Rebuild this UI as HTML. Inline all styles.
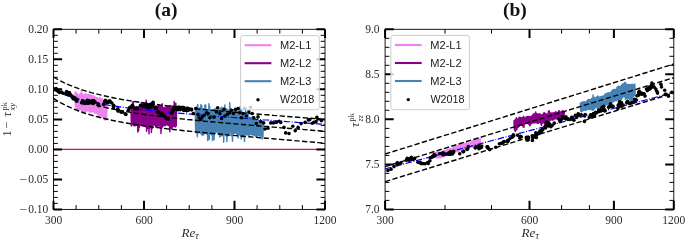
<!DOCTYPE html>
<html><head><meta charset="utf-8"><title>figure</title>
<style>html,body{margin:0;padding:0;background:#fff}svg{display:block;will-change:transform}</style></head>
<body>
<svg width="685" height="241" viewBox="0 0 685 241">
<rect width="685" height="241" fill="#fff"/>
<defs><clipPath id="ca"><rect x="53.5" y="29.3" width="271.5" height="180.1"/></clipPath><clipPath id="cb"><rect x="385.1" y="29.3" width="288.69999999999993" height="180.1"/></clipPath></defs>
<g clip-path="url(#ca)"><path d="M75.0,91.8 L75.4,106.5 L75.8,91.7 L76.2,108.3 L76.6,93.2 L77.0,109.9 L77.4,94.0 L77.8,111.2 L78.2,94.8 L78.6,111.4 L79.0,95.2 L79.4,110.3 L79.8,94.2 L80.2,109.6 L80.6,93.4 L81.0,109.8 L81.4,90.2 L81.8,111.0 L82.2,93.8 L82.6,113.1 L83.0,95.3 L83.4,113.1 L83.8,94.8 L84.2,112.7 L84.6,94.2 L85.0,112.0 L85.4,94.0 L85.8,111.6 L86.2,94.0 L86.6,111.3 L87.0,95.1 L87.4,110.5 L87.8,95.1 L88.2,110.7 L88.6,94.5 L89.0,111.3 L89.4,95.1 L89.8,112.5 L90.2,94.7 L90.6,111.5 L91.0,95.3 L91.4,111.9 L91.8,95.5 L92.2,111.2 L92.6,95.9 L93.0,111.8 L93.4,95.7 L93.8,112.2 L94.2,96.4 L94.6,112.9 L95.0,97.0 L95.4,112.9 L95.8,97.6 L96.2,112.8 L96.6,98.1 L97.0,113.4 L97.4,97.6 L97.8,114.6 L98.2,98.8 L98.6,115.8 L99.0,99.4 L99.4,115.7 L99.8,97.5 L100.2,115.6 L100.6,98.4 L101.0,116.2 L101.4,99.5 L101.8,117.1 L102.2,98.8 L102.6,116.9 L103.0,99.7 L103.4,117.5 L103.8,100.7 L104.2,119.2 L104.6,101.4 L105.0,120.0 L105.4,101.9 L105.8,119.7 L106.2,101.7 L106.6,118.9 L107.0,102.1" fill="none" stroke="#ee82ee" stroke-width="1.5" stroke-linejoin="round"/>
<path d="M131.0,106.8 L131.4,126.1 L131.8,105.7 L132.2,124.8 L132.6,102.1 L133.0,124.9 L133.4,101.8 L133.8,125.5 L134.2,107.4 L134.6,126.0 L135.0,107.7 L135.4,125.4 L135.8,106.7 L136.2,124.8 L136.6,106.8 L137.0,125.5 L137.4,106.9 L137.8,132.0 L138.2,107.1 L138.6,130.7 L139.0,106.2 L139.4,127.3 L139.8,106.9 L140.2,125.6 L140.6,106.5 L141.0,125.1 L141.4,102.5 L141.8,125.4 L142.2,103.9 L142.6,125.5 L143.0,106.1 L143.4,126.0 L143.8,105.3 L144.2,126.2 L144.6,105.4 L145.0,126.3 L145.4,104.6 L145.8,126.9 L146.2,100.3 L146.6,131.2 L147.0,106.0 L147.4,128.6 L147.8,106.0 L148.2,128.4 L148.6,106.5 L149.0,133.8 L149.4,107.1 L149.8,128.0 L150.2,107.4 L150.6,127.4 L151.0,107.7 L151.4,132.4 L151.8,107.8 L152.2,128.5 L152.6,103.7 L153.0,125.5 L153.4,104.5 L153.8,124.6 L154.2,107.1 L154.6,125.0 L155.0,106.5 L155.4,126.6 L155.8,106.1 L156.2,127.2 L156.6,106.0 L157.0,126.8 L157.4,106.7 L157.8,126.4 L158.2,105.8 L158.6,125.6 L159.0,106.6 L159.4,125.8 L159.8,106.1 L160.2,128.0 L160.6,107.0 L161.0,133.6 L161.4,105.5 L161.8,128.3 L162.2,103.7 L162.6,126.8 L163.0,107.9 L163.4,126.1 L163.8,107.5 L164.2,125.1 L164.6,107.8 L165.0,125.8 L165.4,107.8 L165.8,125.1 L166.2,106.8 L166.6,124.8 L167.0,106.5 L167.4,124.7 L167.8,106.9 L168.2,125.6 L168.6,106.9 L169.0,125.5 L169.4,106.6 L169.8,131.8 L170.2,105.6 L170.6,128.5 L171.0,105.8 L171.4,128.6 L171.8,106.6 L172.2,127.7 L172.6,107.6 L173.0,126.5 L173.4,106.2 L173.8,126.6 L174.2,101.5 L174.6,126.3 L175.0,103.7 L175.4,127.1 L175.8,103.3 L176.2,126.0 L176.6,106.7" fill="none" stroke="#8b008b" stroke-width="1.5" stroke-linejoin="round"/>
<path d="M195.3,110.6 L195.7,132.0 L196.1,110.6 L196.5,133.1 L196.9,106.8 L197.3,136.8 L197.7,104.5 L198.1,132.9 L198.5,109.3 L198.9,132.2 L199.3,108.6 L199.7,132.8 L200.1,107.5 L200.5,133.3 L200.9,104.8 L201.3,133.9 L201.7,105.4 L202.1,134.9 L202.5,108.8 L202.9,135.3 L203.3,108.8 L203.7,134.7 L204.1,108.9 L204.5,133.5 L204.9,105.0 L205.3,132.7 L205.7,105.1 L206.1,133.1 L206.5,110.4 L206.9,134.3 L207.3,110.3 L207.7,140.5 L208.1,109.8 L208.5,136.7 L208.9,103.7 L209.3,139.5 L209.7,106.5 L210.1,133.9 L210.5,110.5 L210.9,133.9 L211.3,110.3 L211.7,135.1 L212.1,110.2 L212.5,140.4 L212.9,110.2 L213.3,135.9 L213.7,109.7 L214.1,139.8 L214.5,109.1 L214.9,133.5 L215.3,108.7 L215.7,132.8 L216.1,109.2 L216.5,131.7 L216.9,109.8 L217.3,131.8 L217.7,110.3 L218.1,133.5 L218.5,110.5 L218.9,133.8 L219.3,109.8 L219.7,137.1 L220.1,109.3 L220.5,136.2 L220.9,107.9 L221.3,135.4 L221.7,107.3 L222.1,135.8 L222.5,108.5 L222.9,135.2 L223.3,109.2 L223.7,142.3 L224.1,108.1 L224.5,135.1 L224.9,104.9 L225.3,134.8 L225.7,108.7 L226.1,135.9 L226.5,108.9 L226.9,141.6 L227.3,109.8 L227.7,136.3 L228.1,110.0 L228.5,134.7 L228.9,110.1 L229.3,132.5 L229.7,102.8 L230.1,133.6 L230.5,108.0 L230.9,133.1 L231.3,111.4 L231.7,136.1 L232.1,111.7 L232.5,141.3 L232.9,110.0 L233.3,133.4 L233.7,109.6 L234.1,133.4 L234.5,110.0 L234.9,132.7 L235.3,109.8 L235.7,133.3 L236.1,110.8 L236.5,133.7 L236.9,111.0 L237.3,135.6 L237.7,111.9 L238.1,137.9 L238.5,111.4 L238.9,134.1 L239.3,108.9 L239.7,135.0 L240.1,106.6 L240.5,136.3 L240.9,110.5 L241.3,138.9 L241.7,110.8 L242.1,137.1 L242.5,112.8 L242.9,134.9 L243.3,113.3 L243.7,136.5 L244.1,114.3 L244.5,141.4 L244.9,115.9 L245.3,134.3 L245.7,109.0 L246.1,134.6 L246.5,112.8 L246.9,134.8 L247.3,113.2 L247.7,135.0 L248.1,113.6 L248.5,134.9 L248.9,118.0 L249.3,135.5 L249.7,117.2 L250.1,134.2 L250.5,117.2 L250.9,134.2 L251.3,117.5 L251.7,134.5 L252.1,117.8 L252.5,134.9 L252.9,116.8 L253.3,135.1 L253.7,117.4 L254.1,135.2 L254.5,118.6 L254.9,135.5 L255.3,119.1 L255.7,136.4 L256.1,119.3 L256.5,136.8 L256.9,120.0 L257.3,136.2 L257.7,120.2 L258.1,135.4 L258.5,120.8 L258.9,135.5 L259.3,120.9 L259.7,135.9 L260.1,121.1 L260.5,136.1 L260.9,121.8 L261.3,136.0 L261.7,122.4 L262.1,138.9 L262.5,122.5 L262.9,136.7 L263.3,122.6" fill="none" stroke="#4682b4" stroke-width="1.5" stroke-linejoin="round"/>
<path d="M53.5,90.3 L56.9,91.8 L60.4,93.2 L63.8,94.5 L67.2,95.7 L70.7,96.8 L74.1,97.8 L77.6,98.8 L81.0,99.6 L84.4,100.5 L87.9,101.3 L91.3,102.0 L94.7,102.7 L98.2,103.4 L101.6,104.0 L105.1,104.6 L108.5,105.2 L111.9,105.7 L115.4,106.2 L118.8,106.7 L122.2,107.2 L125.7,107.6 L129.1,108.1 L132.5,108.5 L136.0,108.9 L139.4,109.3 L142.9,109.7 L146.3,110.0 L149.7,110.4 L153.2,110.8 L156.6,111.1 L160.0,111.4 L163.5,111.8 L166.9,112.1 L170.3,112.4 L173.8,112.7 L177.2,113.0 L180.7,113.3 L184.1,113.6 L187.5,113.9 L191.0,114.2 L194.4,114.5 L197.8,114.8 L201.3,115.0 L204.7,115.3 L208.2,115.6 L211.6,115.9 L215.0,116.1 L218.5,116.4 L221.9,116.7 L225.3,116.9 L228.8,117.2 L232.2,117.5 L235.6,117.7 L239.1,118.0 L242.5,118.2 L246.0,118.5 L249.4,118.8 L252.8,119.0 L256.3,119.3 L259.7,119.5 L263.1,119.8 L266.6,120.0 L270.0,120.3 L273.4,120.6 L276.9,120.8 L280.3,121.1 L283.8,121.3 L287.2,121.6 L290.6,121.8 L294.1,122.1 L297.5,122.4 L300.9,122.6 L304.4,122.9 L307.8,123.1 L311.3,123.4 L314.7,123.7 L318.1,123.9 L321.6,124.2 L325.0,124.4" fill="none" stroke="#0000ff" stroke-width="1.2" stroke-dasharray="6.4 1.6 1 1.6"/>
<g fill="#000"><circle cx="55.4" cy="89.4" r="1.8"/><circle cx="55.8" cy="88.9" r="1.8"/><circle cx="56.3" cy="88.9" r="1.8"/><circle cx="57.4" cy="89.8" r="1.8"/><circle cx="58.1" cy="91.0" r="1.8"/><circle cx="58.5" cy="91.8" r="1.8"/><circle cx="59.7" cy="92.4" r="1.8"/><circle cx="61.5" cy="92.0" r="1.8"/><circle cx="63.1" cy="93.2" r="1.8"/><circle cx="66.1" cy="92.7" r="1.8"/><circle cx="66.6" cy="93.8" r="1.8"/><circle cx="66.7" cy="91.6" r="1.8"/><circle cx="67.1" cy="94.5" r="1.8"/><circle cx="68.6" cy="92.7" r="1.8"/><circle cx="69.3" cy="92.5" r="1.8"/><circle cx="69.7" cy="93.9" r="1.8"/><circle cx="69.7" cy="94.5" r="1.8"/><circle cx="70.0" cy="94.2" r="1.8"/><circle cx="71.7" cy="96.6" r="1.8"/><circle cx="71.8" cy="95.9" r="1.8"/><circle cx="73.1" cy="98.2" r="1.8"/><circle cx="73.2" cy="98.3" r="1.8"/><circle cx="73.2" cy="97.1" r="1.8"/><circle cx="73.7" cy="99.0" r="1.8"/><circle cx="74.5" cy="98.6" r="1.8"/><circle cx="74.5" cy="98.5" r="1.8"/><circle cx="74.8" cy="97.9" r="1.8"/><circle cx="75.1" cy="98.7" r="1.8"/><circle cx="76.4" cy="100.9" r="1.8"/><circle cx="76.7" cy="99.2" r="1.8"/><circle cx="76.8" cy="101.0" r="1.8"/><circle cx="81.5" cy="102.7" r="1.8"/><circle cx="82.0" cy="102.8" r="1.8"/><circle cx="82.7" cy="100.8" r="1.8"/><circle cx="83.7" cy="103.1" r="1.8"/><circle cx="85.1" cy="103.5" r="1.8"/><circle cx="85.9" cy="102.1" r="1.8"/><circle cx="86.1" cy="102.9" r="1.8"/><circle cx="87.3" cy="100.4" r="1.8"/><circle cx="87.5" cy="103.1" r="1.8"/><circle cx="88.4" cy="101.8" r="1.8"/><circle cx="88.6" cy="103.1" r="1.8"/><circle cx="88.8" cy="100.6" r="1.8"/><circle cx="89.5" cy="102.8" r="1.8"/><circle cx="90.7" cy="101.7" r="1.8"/><circle cx="91.3" cy="102.5" r="1.8"/><circle cx="92.0" cy="100.8" r="1.8"/><circle cx="92.2" cy="101.1" r="1.8"/><circle cx="93.4" cy="103.4" r="1.8"/><circle cx="93.6" cy="100.6" r="1.8"/><circle cx="93.6" cy="100.7" r="1.8"/><circle cx="95.1" cy="102.1" r="1.8"/><circle cx="98.1" cy="103.8" r="1.8"/><circle cx="98.8" cy="105.7" r="1.8"/><circle cx="103.5" cy="104.4" r="1.8"/><circle cx="104.5" cy="101.7" r="1.8"/><circle cx="105.5" cy="100.2" r="1.8"/><circle cx="106.3" cy="102.3" r="1.8"/><circle cx="107.6" cy="102.2" r="1.8"/><circle cx="107.7" cy="102.0" r="1.8"/><circle cx="107.9" cy="102.4" r="1.8"/><circle cx="109.0" cy="101.1" r="1.8"/><circle cx="109.7" cy="102.0" r="1.8"/><circle cx="110.0" cy="101.1" r="1.8"/><circle cx="111.9" cy="103.0" r="1.8"/><circle cx="113.5" cy="106.7" r="1.8"/><circle cx="113.5" cy="105.3" r="1.8"/><circle cx="113.5" cy="108.0" r="1.8"/><circle cx="113.6" cy="106.1" r="1.8"/><circle cx="117.8" cy="108.7" r="1.8"/><circle cx="117.9" cy="110.1" r="1.8"/><circle cx="118.0" cy="111.1" r="1.8"/><circle cx="121.1" cy="112.3" r="1.8"/><circle cx="122.5" cy="111.9" r="1.8"/><circle cx="125.1" cy="113.7" r="1.8"/><circle cx="125.9" cy="114.4" r="1.8"/><circle cx="128.3" cy="110.4" r="1.8"/><circle cx="129.5" cy="107.9" r="1.8"/><circle cx="130.3" cy="107.2" r="1.8"/><circle cx="131.0" cy="107.3" r="1.8"/><circle cx="132.2" cy="105.5" r="1.8"/><circle cx="133.0" cy="106.6" r="1.8"/><circle cx="135.0" cy="109.0" r="1.8"/><circle cx="136.5" cy="108.5" r="1.8"/><circle cx="136.6" cy="108.4" r="1.8"/><circle cx="136.8" cy="108.3" r="1.8"/><circle cx="137.5" cy="108.9" r="1.8"/><circle cx="140.5" cy="105.4" r="1.8"/><circle cx="142.8" cy="106.8" r="1.8"/><circle cx="143.9" cy="104.9" r="1.8"/><circle cx="144.4" cy="105.9" r="1.8"/><circle cx="144.8" cy="104.9" r="1.8"/><circle cx="146.2" cy="105.1" r="1.8"/><circle cx="146.7" cy="107.5" r="1.8"/><circle cx="146.8" cy="105.2" r="1.8"/><circle cx="147.1" cy="104.3" r="1.8"/><circle cx="147.5" cy="105.0" r="1.8"/><circle cx="147.5" cy="105.4" r="1.8"/><circle cx="147.9" cy="108.0" r="1.8"/><circle cx="148.4" cy="106.2" r="1.8"/><circle cx="149.9" cy="106.6" r="1.8"/><circle cx="149.9" cy="104.6" r="1.8"/><circle cx="150.0" cy="105.9" r="1.8"/><circle cx="150.0" cy="106.2" r="1.8"/><circle cx="150.5" cy="107.2" r="1.8"/><circle cx="151.0" cy="104.5" r="1.8"/><circle cx="151.3" cy="105.6" r="1.8"/><circle cx="151.4" cy="105.3" r="1.8"/><circle cx="151.6" cy="103.9" r="1.8"/><circle cx="151.6" cy="104.9" r="1.8"/><circle cx="153.0" cy="104.3" r="1.8"/><circle cx="153.1" cy="102.3" r="1.8"/><circle cx="154.6" cy="107.3" r="1.8"/><circle cx="155.6" cy="108.6" r="1.8"/><circle cx="156.0" cy="108.1" r="1.8"/><circle cx="156.3" cy="107.7" r="1.8"/><circle cx="157.8" cy="112.4" r="1.8"/><circle cx="158.1" cy="111.5" r="1.8"/><circle cx="159.4" cy="113.1" r="1.8"/><circle cx="161.3" cy="115.1" r="1.8"/><circle cx="161.9" cy="113.8" r="1.8"/><circle cx="161.9" cy="115.1" r="1.8"/><circle cx="162.2" cy="114.4" r="1.8"/><circle cx="162.3" cy="114.6" r="1.8"/><circle cx="164.1" cy="116.0" r="1.8"/><circle cx="164.7" cy="116.5" r="1.8"/><circle cx="166.4" cy="118.7" r="1.8"/><circle cx="168.4" cy="118.9" r="1.8"/><circle cx="171.6" cy="113.1" r="1.8"/><circle cx="171.6" cy="112.9" r="1.8"/><circle cx="172.7" cy="111.5" r="1.8"/><circle cx="172.8" cy="110.0" r="1.8"/><circle cx="173.2" cy="109.7" r="1.8"/><circle cx="174.0" cy="109.1" r="1.8"/><circle cx="174.2" cy="108.5" r="1.8"/><circle cx="175.0" cy="108.4" r="1.8"/><circle cx="175.9" cy="107.3" r="1.8"/><circle cx="176.7" cy="109.7" r="1.8"/><circle cx="176.9" cy="109.0" r="1.8"/><circle cx="177.1" cy="108.1" r="1.8"/><circle cx="178.3" cy="107.4" r="1.8"/><circle cx="178.4" cy="109.6" r="1.8"/><circle cx="178.5" cy="107.8" r="1.8"/><circle cx="179.2" cy="107.2" r="1.8"/><circle cx="179.3" cy="107.6" r="1.8"/><circle cx="179.6" cy="107.7" r="1.8"/><circle cx="179.9" cy="108.9" r="1.8"/><circle cx="180.1" cy="107.5" r="1.8"/><circle cx="180.2" cy="109.7" r="1.8"/><circle cx="182.4" cy="107.3" r="1.8"/><circle cx="183.2" cy="109.2" r="1.8"/><circle cx="183.7" cy="107.6" r="1.8"/><circle cx="183.8" cy="110.5" r="1.8"/><circle cx="184.3" cy="108.5" r="1.8"/><circle cx="184.6" cy="108.9" r="1.8"/><circle cx="186.5" cy="110.4" r="1.8"/><circle cx="186.7" cy="110.8" r="1.8"/><circle cx="186.7" cy="108.4" r="1.8"/><circle cx="187.9" cy="109.3" r="1.8"/><circle cx="188.0" cy="108.3" r="1.8"/><circle cx="188.5" cy="109.9" r="1.8"/><circle cx="188.6" cy="109.7" r="1.8"/><circle cx="189.5" cy="109.5" r="1.8"/><circle cx="191.7" cy="109.9" r="1.8"/><circle cx="193.3" cy="113.6" r="1.8"/><circle cx="195.8" cy="108.6" r="1.8"/><circle cx="198.0" cy="114.4" r="1.8"/><circle cx="199.1" cy="117.7" r="1.8"/><circle cx="200.8" cy="119.4" r="1.8"/><circle cx="202.4" cy="116.9" r="1.8"/><circle cx="204.1" cy="115.2" r="1.8"/><circle cx="206.6" cy="112.7" r="1.8"/><circle cx="208.2" cy="113.6" r="1.8"/><circle cx="209.9" cy="117.7" r="1.8"/><circle cx="214.0" cy="117.2" r="1.8"/><circle cx="216.5" cy="111.9" r="1.8"/><circle cx="217.7" cy="107.8" r="1.8"/><circle cx="219.9" cy="113.6" r="1.8"/><circle cx="221.5" cy="118.5" r="1.8"/><circle cx="224.0" cy="109.4" r="1.8"/><circle cx="224.8" cy="116.0" r="1.8"/><circle cx="227.3" cy="114.4" r="1.8"/><circle cx="229.8" cy="112.7" r="1.8"/><circle cx="231.5" cy="110.2" r="1.8"/><circle cx="233.4" cy="113.6" r="1.8"/><circle cx="235.6" cy="109.4" r="1.8"/><circle cx="238.1" cy="108.6" r="1.8"/><circle cx="239.8" cy="112.7" r="1.8"/><circle cx="241.4" cy="117.7" r="1.8"/><circle cx="243.1" cy="113.6" r="1.8"/><circle cx="244.7" cy="108.3" r="1.8"/><circle cx="246.4" cy="116.0" r="1.8"/><circle cx="248.9" cy="111.9" r="1.8"/><circle cx="250.5" cy="107.3" r="1.8"/><circle cx="252.2" cy="113.6" r="1.8"/><circle cx="253.8" cy="117.7" r="1.8"/><circle cx="256.3" cy="123.5" r="1.8"/><circle cx="258.0" cy="116.9" r="1.8"/><circle cx="260.8" cy="121.6" r="1.8"/><circle cx="263.6" cy="122.9" r="1.8"/><circle cx="265.0" cy="129.0" r="1.8"/><circle cx="268.0" cy="128.2" r="1.8"/><circle cx="270.8" cy="122.9" r="1.8"/><circle cx="273.3" cy="122.9" r="1.8"/><circle cx="276.3" cy="122.4" r="1.8"/><circle cx="279.1" cy="121.3" r="1.8"/><circle cx="280.7" cy="122.4" r="1.8"/><circle cx="284.0" cy="127.4" r="1.8"/><circle cx="285.7" cy="132.9" r="1.8"/><circle cx="289.0" cy="133.5" r="1.8"/><circle cx="292.8" cy="126.2" r="1.8"/><circle cx="295.2" cy="130.7" r="1.8"/><circle cx="298.1" cy="127.4" r="1.8"/><circle cx="301.1" cy="123.6" r="1.8"/><circle cx="305.1" cy="122.4" r="1.8"/><circle cx="308.4" cy="119.9" r="1.8"/><circle cx="309.8" cy="119.6" r="1.8"/><circle cx="312.2" cy="123.2" r="1.8"/><circle cx="313.9" cy="122.4" r="1.8"/><circle cx="316.1" cy="121.6" r="1.8"/><circle cx="316.9" cy="117.4" r="1.8"/><circle cx="321.4" cy="120.8" r="1.8"/></g>
<path d="M53.5,77.0 L56.9,79.0 L60.4,80.9 L63.8,82.6 L67.2,84.1 L70.7,85.6 L74.1,87.0 L77.6,88.2 L81.0,89.4 L84.4,90.6 L87.9,91.6 L91.3,92.6 L94.7,93.5 L98.2,94.4 L101.6,95.2 L105.1,96.0 L108.5,96.8 L111.9,97.5 L115.4,98.2 L118.8,98.8 L122.2,99.5 L125.7,100.1 L129.1,100.6 L132.5,101.2 L136.0,101.7 L139.4,102.2 L142.9,102.7 L146.3,103.2 L149.7,103.7 L153.2,104.1 L156.6,104.5 L160.0,105.0 L163.5,105.4 L166.9,105.8 L170.3,106.1 L173.8,106.5 L177.2,106.9 L180.7,107.3 L184.1,107.6 L187.5,108.0 L191.0,108.3 L194.4,108.6 L197.8,109.0 L201.3,109.3 L204.7,109.6 L208.2,109.9 L211.6,110.2 L215.0,110.6 L218.5,110.9 L221.9,111.2 L225.3,111.5 L228.8,111.7 L232.2,112.0 L235.6,112.3 L239.1,112.6 L242.5,112.9 L246.0,113.2 L249.4,113.5 L252.8,113.7 L256.3,114.0 L259.7,114.3 L263.1,114.6 L266.6,114.8 L270.0,115.1 L273.4,115.4 L276.9,115.6 L280.3,115.9 L283.8,116.2 L287.2,116.5 L290.6,116.7 L294.1,117.0 L297.5,117.2 L300.9,117.5 L304.4,117.8 L307.8,118.0 L311.3,118.3 L314.7,118.6 L318.1,118.8 L321.6,119.1 L325.0,119.4" fill="none" stroke="#000" stroke-width="1.4" stroke-dasharray="5.3 2.4"/>
<path d="M53.5,87.7 L56.9,89.8 L60.4,91.7 L63.8,93.5 L67.2,95.1 L70.7,96.7 L74.1,98.1 L77.6,99.4 L81.0,100.6 L84.4,101.8 L87.9,102.9 L91.3,103.9 L94.7,104.8 L98.2,105.7 L101.6,106.6 L105.1,107.4 L108.5,108.2 L111.9,108.9 L115.4,109.6 L118.8,110.2 L122.2,110.9 L125.7,111.5 L129.1,112.1 L132.5,112.6 L136.0,113.2 L139.4,113.7 L142.9,114.2 L146.3,114.7 L149.7,115.1 L153.2,115.6 L156.6,116.0 L160.0,116.4 L163.5,116.9 L166.9,117.3 L170.3,117.6 L173.8,118.0 L177.2,118.4 L180.7,118.8 L184.1,119.1 L187.5,119.5 L191.0,119.8 L194.4,120.2 L197.8,120.5 L201.3,120.8 L204.7,121.2 L208.2,121.5 L211.6,121.8 L215.0,122.1 L218.5,122.4 L221.9,122.7 L225.3,123.0 L228.8,123.4 L232.2,123.6 L235.6,123.9 L239.1,124.2 L242.5,124.5 L246.0,124.8 L249.4,125.1 L252.8,125.4 L256.3,125.7 L259.7,126.0 L263.1,126.3 L266.6,126.5 L270.0,126.8 L273.4,127.1 L276.9,127.4 L280.3,127.7 L283.8,127.9 L287.2,128.2 L290.6,128.5 L294.1,128.8 L297.5,129.1 L300.9,129.3 L304.4,129.6 L307.8,129.9 L311.3,130.2 L314.7,130.5 L318.1,130.7 L321.6,131.0 L325.0,131.3" fill="none" stroke="#000" stroke-width="1.4" stroke-dasharray="5.3 2.4"/>
<path d="M53.5,98.4 L56.9,100.6 L60.4,102.6 L63.8,104.4 L67.2,106.1 L70.7,107.7 L74.1,109.2 L77.6,110.5 L81.0,111.8 L84.4,113.0 L87.9,114.1 L91.3,115.1 L94.7,116.1 L98.2,117.0 L101.6,117.9 L105.1,118.7 L108.5,119.5 L111.9,120.3 L115.4,121.0 L118.8,121.6 L122.2,122.3 L125.7,122.9 L129.1,123.5 L132.5,124.1 L136.0,124.6 L139.4,125.1 L142.9,125.6 L146.3,126.1 L149.7,126.6 L153.2,127.1 L156.6,127.5 L160.0,127.9 L163.5,128.3 L166.9,128.8 L170.3,129.1 L173.8,129.5 L177.2,129.9 L180.7,130.3 L184.1,130.7 L187.5,131.0 L191.0,131.4 L194.4,131.7 L197.8,132.1 L201.3,132.4 L204.7,132.7 L208.2,133.1 L211.6,133.4 L215.0,133.7 L218.5,134.0 L221.9,134.3 L225.3,134.6 L228.8,135.0 L232.2,135.3 L235.6,135.6 L239.1,135.9 L242.5,136.2 L246.0,136.5 L249.4,136.8 L252.8,137.1 L256.3,137.4 L259.7,137.7 L263.1,138.0 L266.6,138.2 L270.0,138.5 L273.4,138.8 L276.9,139.1 L280.3,139.4 L283.8,139.7 L287.2,140.0 L290.6,140.3 L294.1,140.6 L297.5,140.9 L300.9,141.2 L304.4,141.5 L307.8,141.8 L311.3,142.0 L314.7,142.3 L318.1,142.6 L321.6,142.9 L325.0,143.2" fill="none" stroke="#000" stroke-width="1.4" stroke-dasharray="5.3 2.4"/>
<path d="M53.5,149.4H325.0" stroke="#dc143c" stroke-width="1.3"/></g>
<g clip-path="url(#cb)"><path d="M432.1,153.1 L432.5,156.8 L432.9,152.8 L433.3,156.6 L433.7,152.7 L434.1,156.7 L434.5,152.8 L434.9,157.2 L435.3,152.5 L435.7,157.6 L436.1,152.2 L436.5,157.8 L436.9,152.3 L437.3,157.7 L437.7,152.0 L438.1,157.6 L438.5,152.3 L438.9,157.5 L439.3,152.6 L439.7,157.7 L440.1,152.8 L440.5,157.8 L440.9,152.7 L441.3,157.2 L441.7,152.3 L442.1,157.0 L442.5,151.2 L442.9,156.8 L443.3,150.4 L443.7,156.3 L444.1,150.5 L444.5,156.6 L444.9,150.4 L445.3,155.5 L445.7,150.6 L446.1,155.1 L446.5,150.2 L446.9,154.6 L447.3,149.6 L447.7,154.2 L448.1,149.2 L448.5,154.3 L448.9,149.4 L449.3,154.1 L449.7,148.8 L450.1,153.8 L450.5,148.5 L450.9,153.6 L451.3,148.6 L451.7,153.3 L452.1,148.5 L452.5,153.1 L452.9,147.9 L453.3,153.0 L453.7,146.8 L454.1,152.2 L454.5,146.8 L454.9,151.7 L455.3,147.0 L455.7,151.5 L456.1,146.7 L456.5,151.6 L456.9,146.5 L457.3,151.4 L457.7,145.8 L458.1,151.4 L458.5,145.2 L458.9,151.2 L459.3,144.7 L459.7,150.7 L460.1,144.3 L460.5,150.0 L460.9,143.2 L461.3,149.2 L461.7,143.4 L462.1,150.0 L462.5,144.0 L462.9,149.7 L463.3,144.0 L463.7,149.2 L464.1,143.5 L464.5,149.4 L464.9,143.5 L465.3,149.3 L465.7,143.5 L466.1,149.1 L466.5,142.4 L466.9,147.8 L467.3,143.7 L467.7,147.7 L468.1,143.6 L468.5,147.9 L468.9,143.0 L469.3,148.0 L469.7,143.1 L470.1,147.3 L470.5,142.8 L470.9,146.9 L471.3,141.5 L471.7,146.9 L472.1,141.9 L472.5,147.0 L472.9,140.6 L473.3,147.2 L473.7,140.1 L474.1,148.2 L474.5,139.8 L474.9,147.5 L475.3,139.1 L475.7,147.2 L476.1,139.6 L476.5,145.7 L476.9,139.9 L477.3,145.6 L477.7,138.5 L478.1,145.6 L478.5,138.3 L478.9,144.9 L479.3,139.0 L479.7,144.5 L480.1,138.8 L480.5,143.9" fill="none" stroke="#ee82ee" stroke-width="1.5" stroke-linejoin="round"/>
<path d="M514.0,120.1 L514.4,129.7 L514.8,120.2 L515.2,131.5 L515.6,119.2 L516.0,130.6 L516.4,117.7 L516.8,129.5 L517.2,119.8 L517.6,127.6 L518.0,118.8 L518.4,127.1 L518.8,117.9 L519.2,126.2 L519.6,117.2 L520.0,125.2 L520.4,117.6 L520.8,124.6 L521.2,117.7 L521.6,125.1 L522.0,118.0 L522.4,125.8 L522.8,117.6 L523.2,127.0 L523.6,116.2 L524.0,127.2 L524.4,117.7 L524.8,123.8 L525.2,118.1 L525.6,123.6 L526.0,117.3 L526.4,123.3 L526.8,116.8 L527.2,123.3 L527.6,116.6 L528.0,123.6 L528.4,116.6 L528.8,124.1 L529.2,116.6 L529.6,125.6 L530.0,116.6 L530.4,125.3 L530.8,116.7 L531.2,123.7 L531.6,116.3 L532.0,123.2 L532.4,115.6 L532.8,122.7 L533.2,114.2 L533.6,122.8 L534.0,113.7 L534.4,123.0 L534.8,115.7 L535.2,122.8 L535.6,111.9 L536.0,122.6 L536.4,113.4 L536.8,122.9 L537.2,114.1 L537.6,123.2 L538.0,114.0 L538.4,123.3 L538.8,114.2 L539.2,122.6 L539.6,114.0 L540.0,122.2 L540.4,114.0 L540.8,124.0 L541.2,115.0 L541.6,125.4 L542.0,115.1 L542.4,122.7 L542.8,114.4 L543.2,123.0 L543.6,113.1 L544.0,122.7 L544.4,112.7 L544.8,125.2 L545.2,113.6 L545.6,123.8 L546.0,114.1 L546.4,121.4 L546.8,113.9 L547.2,121.4 L547.6,114.2 L548.0,121.5 L548.4,111.3 L548.8,121.6 L549.2,110.8 L549.6,120.9 L550.0,112.7 L550.4,120.3 L550.8,113.6 L551.2,119.6 L551.6,113.1 L552.0,120.0 L552.4,113.1 L552.8,120.1 L553.2,113.3 L553.6,119.5 L554.0,112.8 L554.4,119.0 L554.8,112.4 L555.2,118.7 L555.6,112.1 L556.0,118.8 L556.4,112.1 L556.8,118.7 L557.2,112.3 L557.6,118.8 L558.0,112.8 L558.4,118.8 L558.8,110.8 L559.2,119.1 L559.6,111.1 L560.0,119.3 L560.4,112.3 L560.8,119.6 L561.2,111.9 L561.6,119.3 L562.0,111.5 L562.4,118.9 L562.8,110.5 L563.2,118.4 L563.6,111.4 L564.0,118.2 L564.4,111.1" fill="none" stroke="#8b008b" stroke-width="1.5" stroke-linejoin="round"/>
<path d="M580.3,102.8 L580.7,110.9 L581.1,102.9 L581.5,112.0 L581.9,102.2 L582.3,111.3 L582.7,102.1 L583.1,110.7 L583.5,102.1 L583.9,110.0 L584.3,101.8 L584.7,110.3 L585.1,101.9 L585.5,110.5 L585.9,102.0 L586.3,110.3 L586.7,101.2 L587.1,109.3 L587.5,100.2 L587.9,108.9 L588.3,99.4 L588.7,109.5 L589.1,99.7 L589.5,109.6 L589.9,99.5 L590.3,108.9 L590.7,100.3 L591.1,109.4 L591.5,98.6 L591.9,109.8 L592.3,98.5 L592.7,110.3 L593.1,95.0 L593.5,109.7 L593.9,97.0 L594.3,109.1 L594.7,98.6 L595.1,107.8 L595.5,98.1 L595.9,107.5 L596.3,97.2 L596.7,107.5 L597.1,96.7 L597.5,108.0 L597.9,96.0 L598.3,108.0 L598.7,97.0 L599.1,107.9 L599.5,97.2 L599.9,107.2 L600.3,96.9 L600.7,106.8 L601.1,96.6 L601.5,106.6 L601.9,96.6 L602.3,106.7 L602.7,96.2 L603.1,106.7 L603.5,95.9 L603.9,106.4 L604.3,95.6 L604.7,105.6 L605.1,93.9 L605.5,104.0 L605.9,93.7 L606.3,104.7 L606.7,94.1 L607.1,104.6 L607.5,93.1 L607.9,104.2 L608.3,92.7 L608.7,103.8 L609.1,93.1 L609.5,103.5 L609.9,93.2 L610.3,102.5 L610.7,92.4 L611.1,101.7 L611.5,91.2 L611.9,101.8 L612.3,90.4 L612.7,102.3 L613.1,89.8 L613.5,101.5 L613.9,89.6 L614.3,100.9 L614.7,89.5 L615.1,100.7 L615.5,89.5 L615.9,100.8 L616.3,89.2 L616.7,100.5 L617.1,87.3 L617.5,99.8 L617.9,86.7 L618.3,99.8 L618.7,86.3 L619.1,99.7 L619.5,86.5 L619.9,99.3 L620.3,86.7 L620.7,99.4 L621.1,85.7 L621.5,99.3 L621.9,84.5 L622.3,98.1 L622.7,84.1 L623.1,97.1 L623.5,84.3 L623.9,96.5 L624.3,83.3 L624.7,97.0 L625.1,82.2 L625.5,99.5 L625.9,83.2 L626.3,98.4 L626.7,84.8 L627.1,98.1 L627.5,84.4 L627.9,98.6 L628.3,84.4 L628.7,98.6 L629.1,84.4 L629.5,99.1 L629.9,85.3 L630.3,100.4 L630.7,84.8 L631.1,99.3 L631.5,84.6 L631.9,100.5 L632.3,84.3 L632.7,98.3 L633.1,84.7 L633.5,96.2 L633.9,84.9 L634.3,95.6 L634.7,84.0 L635.1,94.3" fill="none" stroke="#4682b4" stroke-width="1.5" stroke-linejoin="round"/>
<path d="M385.1,168.9 L673.8,92.5" fill="none" stroke="#0000ff" stroke-width="1.2" stroke-dasharray="6.4 1.6 1 1.6"/>
<g fill="#000"><circle cx="387.9" cy="170.5" r="1.8"/><circle cx="391.0" cy="169.3" r="1.8"/><circle cx="394.0" cy="166.6" r="1.8"/><circle cx="397.1" cy="162.9" r="1.8"/><circle cx="397.2" cy="164.6" r="1.8"/><circle cx="397.8" cy="163.4" r="1.8"/><circle cx="398.7" cy="163.5" r="1.8"/><circle cx="401.0" cy="163.0" r="1.8"/><circle cx="406.3" cy="160.3" r="1.8"/><circle cx="406.9" cy="159.6" r="1.8"/><circle cx="407.3" cy="158.2" r="1.8"/><circle cx="408.6" cy="160.1" r="1.8"/><circle cx="409.4" cy="159.0" r="1.8"/><circle cx="410.0" cy="159.9" r="1.8"/><circle cx="410.6" cy="159.3" r="1.8"/><circle cx="411.3" cy="157.2" r="1.8"/><circle cx="412.2" cy="159.2" r="1.8"/><circle cx="413.1" cy="159.2" r="1.8"/><circle cx="413.2" cy="159.2" r="1.8"/><circle cx="414.7" cy="158.4" r="1.8"/><circle cx="417.8" cy="162.3" r="1.8"/><circle cx="419.1" cy="162.5" r="1.8"/><circle cx="419.8" cy="162.7" r="1.8"/><circle cx="420.2" cy="162.2" r="1.8"/><circle cx="421.3" cy="163.6" r="1.8"/><circle cx="423.1" cy="163.6" r="1.8"/><circle cx="425.1" cy="163.8" r="1.8"/><circle cx="427.6" cy="162.6" r="1.8"/><circle cx="428.3" cy="163.4" r="1.8"/><circle cx="429.9" cy="160.7" r="1.8"/><circle cx="430.4" cy="157.7" r="1.8"/><circle cx="431.9" cy="157.1" r="1.8"/><circle cx="432.4" cy="156.7" r="1.8"/><circle cx="433.6" cy="156.4" r="1.8"/><circle cx="434.0" cy="155.2" r="1.8"/><circle cx="434.4" cy="155.1" r="1.8"/><circle cx="434.5" cy="154.7" r="1.8"/><circle cx="435.0" cy="155.5" r="1.8"/><circle cx="439.9" cy="153.5" r="1.8"/><circle cx="441.0" cy="153.5" r="1.8"/><circle cx="441.7" cy="153.5" r="1.8"/><circle cx="442.6" cy="154.6" r="1.8"/><circle cx="442.8" cy="153.8" r="1.8"/><circle cx="443.1" cy="152.9" r="1.8"/><circle cx="443.6" cy="154.8" r="1.8"/><circle cx="444.5" cy="153.9" r="1.8"/><circle cx="446.7" cy="154.3" r="1.8"/><circle cx="448.6" cy="153.7" r="1.8"/><circle cx="449.0" cy="154.3" r="1.8"/><circle cx="449.4" cy="154.0" r="1.8"/><circle cx="449.9" cy="152.6" r="1.8"/><circle cx="450.1" cy="152.9" r="1.8"/><circle cx="450.4" cy="151.9" r="1.8"/><circle cx="450.4" cy="154.3" r="1.8"/><circle cx="452.3" cy="153.2" r="1.8"/><circle cx="452.3" cy="154.0" r="1.8"/><circle cx="453.5" cy="152.6" r="1.8"/><circle cx="453.6" cy="151.2" r="1.8"/><circle cx="459.7" cy="153.7" r="1.8"/><circle cx="463.1" cy="151.6" r="1.8"/><circle cx="463.2" cy="151.6" r="1.8"/><circle cx="463.6" cy="151.5" r="1.8"/><circle cx="467.0" cy="149.5" r="1.8"/><circle cx="467.7" cy="148.7" r="1.8"/><circle cx="468.3" cy="146.5" r="1.8"/><circle cx="475.3" cy="147.9" r="1.8"/><circle cx="476.1" cy="146.7" r="1.8"/><circle cx="477.4" cy="147.0" r="1.8"/><circle cx="479.1" cy="148.7" r="1.8"/><circle cx="479.1" cy="148.1" r="1.8"/><circle cx="479.4" cy="147.1" r="1.8"/><circle cx="479.5" cy="145.8" r="1.8"/><circle cx="480.1" cy="147.4" r="1.8"/><circle cx="481.1" cy="147.5" r="1.8"/><circle cx="481.5" cy="147.0" r="1.8"/><circle cx="481.7" cy="146.0" r="1.8"/><circle cx="487.0" cy="146.9" r="1.8"/><circle cx="487.7" cy="146.9" r="1.8"/><circle cx="488.3" cy="148.4" r="1.8"/><circle cx="489.8" cy="149.6" r="1.8"/><circle cx="495.8" cy="147.3" r="1.8"/><circle cx="499.4" cy="143.8" r="1.8"/><circle cx="501.4" cy="143.4" r="1.8"/><circle cx="502.4" cy="143.2" r="1.8"/><circle cx="503.6" cy="141.7" r="1.8"/><circle cx="504.4" cy="141.6" r="1.8"/><circle cx="507.7" cy="141.8" r="1.8"/><circle cx="507.8" cy="140.2" r="1.8"/><circle cx="508.2" cy="140.6" r="1.8"/><circle cx="510.1" cy="138.5" r="1.8"/><circle cx="512.1" cy="137.3" r="1.8"/><circle cx="513.3" cy="134.9" r="1.8"/><circle cx="513.7" cy="135.9" r="1.8"/><circle cx="517.7" cy="135.2" r="1.8"/><circle cx="519.7" cy="138.1" r="1.8"/><circle cx="520.3" cy="136.2" r="1.8"/><circle cx="521.2" cy="136.7" r="1.8"/><circle cx="526.4" cy="137.4" r="1.8"/><circle cx="526.8" cy="138.8" r="1.8"/><circle cx="526.9" cy="140.0" r="1.8"/><circle cx="528.1" cy="137.2" r="1.8"/><circle cx="528.1" cy="140.0" r="1.8"/><circle cx="528.1" cy="137.3" r="1.8"/><circle cx="528.5" cy="138.0" r="1.8"/><circle cx="532.2" cy="135.8" r="1.8"/><circle cx="532.4" cy="140.4" r="1.8"/><circle cx="532.8" cy="137.6" r="1.8"/><circle cx="533.0" cy="137.7" r="1.8"/><circle cx="535.0" cy="135.2" r="1.8"/><circle cx="535.5" cy="136.9" r="1.8"/><circle cx="535.8" cy="132.9" r="1.8"/><circle cx="536.0" cy="135.2" r="1.8"/><circle cx="536.4" cy="137.5" r="1.8"/><circle cx="537.0" cy="133.9" r="1.8"/><circle cx="538.7" cy="133.0" r="1.8"/><circle cx="538.7" cy="133.8" r="1.8"/><circle cx="539.9" cy="131.1" r="1.8"/><circle cx="539.9" cy="132.1" r="1.8"/><circle cx="541.2" cy="131.9" r="1.8"/><circle cx="541.7" cy="130.5" r="1.8"/><circle cx="542.1" cy="130.2" r="1.8"/><circle cx="542.2" cy="129.2" r="1.8"/><circle cx="542.7" cy="129.5" r="1.8"/><circle cx="545.0" cy="126.8" r="1.8"/><circle cx="545.5" cy="127.9" r="1.8"/><circle cx="545.9" cy="126.5" r="1.8"/><circle cx="546.1" cy="125.2" r="1.8"/><circle cx="546.4" cy="122.2" r="1.8"/><circle cx="546.6" cy="125.8" r="1.8"/><circle cx="546.8" cy="125.6" r="1.8"/><circle cx="547.5" cy="123.5" r="1.8"/><circle cx="547.5" cy="122.2" r="1.8"/><circle cx="548.1" cy="123.4" r="1.8"/><circle cx="548.6" cy="125.9" r="1.8"/><circle cx="549.1" cy="123.6" r="1.8"/><circle cx="549.7" cy="124.5" r="1.8"/><circle cx="549.8" cy="125.3" r="1.8"/><circle cx="550.9" cy="126.8" r="1.8"/><circle cx="552.3" cy="125.2" r="1.8"/><circle cx="554.3" cy="123.1" r="1.8"/><circle cx="559.0" cy="119.2" r="1.8"/><circle cx="560.0" cy="121.4" r="1.8"/><circle cx="560.8" cy="120.4" r="1.8"/><circle cx="562.5" cy="118.4" r="1.8"/><circle cx="562.5" cy="116.8" r="1.8"/><circle cx="563.2" cy="117.3" r="1.8"/><circle cx="565.6" cy="118.4" r="1.8"/><circle cx="565.9" cy="116.9" r="1.8"/><circle cx="566.1" cy="118.9" r="1.8"/><circle cx="566.8" cy="118.5" r="1.8"/><circle cx="567.6" cy="118.6" r="1.8"/><circle cx="569.2" cy="119.5" r="1.8"/><circle cx="570.8" cy="119.3" r="1.8"/><circle cx="571.7" cy="117.3" r="1.8"/><circle cx="572.4" cy="117.6" r="1.8"/><circle cx="573.9" cy="120.2" r="1.8"/><circle cx="575.4" cy="115.3" r="1.8"/><circle cx="576.0" cy="116.0" r="1.8"/><circle cx="576.5" cy="117.5" r="1.8"/><circle cx="578.0" cy="115.3" r="1.8"/><circle cx="578.2" cy="114.4" r="1.8"/><circle cx="578.2" cy="113.8" r="1.8"/><circle cx="579.9" cy="115.2" r="1.8"/><circle cx="581.2" cy="114.8" r="1.8"/><circle cx="584.7" cy="115.9" r="1.8"/><circle cx="585.2" cy="114.5" r="1.8"/><circle cx="589.3" cy="117.5" r="1.8"/><circle cx="590.7" cy="114.9" r="1.8"/><circle cx="591.5" cy="115.9" r="1.8"/><circle cx="591.6" cy="114.9" r="1.8"/><circle cx="591.7" cy="115.9" r="1.8"/><circle cx="592.0" cy="116.4" r="1.8"/><circle cx="592.9" cy="116.3" r="1.8"/><circle cx="593.5" cy="113.6" r="1.8"/><circle cx="594.4" cy="115.8" r="1.8"/><circle cx="595.4" cy="113.2" r="1.8"/><circle cx="595.6" cy="112.4" r="1.8"/><circle cx="596.3" cy="113.0" r="1.8"/><circle cx="598.6" cy="110.1" r="1.8"/><circle cx="598.7" cy="111.8" r="1.8"/><circle cx="601.0" cy="110.9" r="1.8"/><circle cx="601.1" cy="109.2" r="1.8"/><circle cx="602.1" cy="107.4" r="1.8"/><circle cx="603.3" cy="108.0" r="1.8"/><circle cx="603.3" cy="108.6" r="1.8"/><circle cx="603.7" cy="110.4" r="1.8"/><circle cx="603.8" cy="106.2" r="1.8"/><circle cx="604.5" cy="109.8" r="1.8"/><circle cx="605.1" cy="111.0" r="1.8"/><circle cx="608.6" cy="107.2" r="1.8"/><circle cx="608.9" cy="107.1" r="1.8"/><circle cx="609.9" cy="105.9" r="1.8"/><circle cx="610.6" cy="103.9" r="1.8"/><circle cx="611.6" cy="106.4" r="1.8"/><circle cx="612.6" cy="106.0" r="1.8"/><circle cx="613.0" cy="106.5" r="1.8"/><circle cx="617.8" cy="108.5" r="1.8"/><circle cx="618.2" cy="105.4" r="1.8"/><circle cx="618.7" cy="104.8" r="1.8"/><circle cx="619.3" cy="106.5" r="1.8"/><circle cx="619.4" cy="101.9" r="1.8"/><circle cx="620.2" cy="102.0" r="1.8"/><circle cx="620.2" cy="103.3" r="1.8"/><circle cx="621.2" cy="102.6" r="1.8"/><circle cx="621.3" cy="104.8" r="1.8"/><circle cx="621.5" cy="103.1" r="1.8"/><circle cx="621.9" cy="106.3" r="1.8"/><circle cx="623.1" cy="105.0" r="1.8"/><circle cx="626.7" cy="102.7" r="1.8"/><circle cx="627.6" cy="101.2" r="1.8"/><circle cx="629.1" cy="103.2" r="1.8"/><circle cx="630.0" cy="103.8" r="1.8"/><circle cx="631.7" cy="102.5" r="1.8"/><circle cx="632.9" cy="102.6" r="1.8"/><circle cx="633.4" cy="102.0" r="1.8"/><circle cx="634.6" cy="99.2" r="1.8"/><circle cx="636.0" cy="100.3" r="1.8"/><circle cx="636.1" cy="99.7" r="1.8"/><circle cx="636.9" cy="95.8" r="1.8"/><circle cx="638.0" cy="95.4" r="1.8"/><circle cx="638.7" cy="92.5" r="1.8"/><circle cx="638.7" cy="94.7" r="1.8"/><circle cx="639.3" cy="91.4" r="1.8"/><circle cx="639.3" cy="94.2" r="1.8"/><circle cx="641.2" cy="93.1" r="1.8"/><circle cx="641.7" cy="94.3" r="1.8"/><circle cx="642.5" cy="93.6" r="1.8"/><circle cx="644.1" cy="93.9" r="1.8"/><circle cx="645.0" cy="96.1" r="1.8"/><circle cx="646.5" cy="89.0" r="1.8"/><circle cx="647.3" cy="90.6" r="1.8"/><circle cx="647.9" cy="88.4" r="1.8"/><circle cx="649.2" cy="87.7" r="1.8"/><circle cx="649.6" cy="89.2" r="1.8"/><circle cx="649.8" cy="86.7" r="1.8"/><circle cx="650.7" cy="88.1" r="1.8"/><circle cx="651.9" cy="83.1" r="1.8"/><circle cx="652.1" cy="87.0" r="1.8"/><circle cx="652.8" cy="85.8" r="1.8"/><circle cx="654.1" cy="87.1" r="1.8"/><circle cx="655.8" cy="89.1" r="1.8"/><circle cx="656.9" cy="91.3" r="1.8"/><circle cx="657.5" cy="93.1" r="1.8"/><circle cx="660.9" cy="84.3" r="1.8"/><circle cx="661.5" cy="86.9" r="1.8"/><circle cx="664.7" cy="90.3" r="1.8"/><circle cx="665.2" cy="94.4" r="1.8"/><circle cx="666.1" cy="94.2" r="1.8"/><circle cx="668.5" cy="96.2" r="1.8"/><circle cx="671.9" cy="92.4" r="1.8"/><circle cx="584.4" cy="121.4" r="1.8"/></g>
<path d="M385.1,154 L673.8,64" fill="none" stroke="#000" stroke-width="1.4" stroke-dasharray="5.3 2.4"/>
<path d="M385.1,166.7 L673.8,77.7" fill="none" stroke="#000" stroke-width="1.4" stroke-dasharray="5.3 2.4"/>
<path d="M385.1,181.6 L673.8,93" fill="none" stroke="#000" stroke-width="1.4" stroke-dasharray="5.3 2.4"/></g>
<path d="M76.1,209.4v-4.3M76.1,29.3v4.3" stroke="#000" stroke-width="1"/>
<path d="M98.8,209.4v-4.3M98.8,29.3v4.3" stroke="#000" stroke-width="1"/>
<path d="M121.4,209.4v-4.3M121.4,29.3v4.3" stroke="#000" stroke-width="1"/>
<path d="M166.6,209.4v-4.3M166.6,29.3v4.3" stroke="#000" stroke-width="1"/>
<path d="M189.2,209.4v-4.3M189.2,29.3v4.3" stroke="#000" stroke-width="1"/>
<path d="M211.9,209.4v-4.3M211.9,29.3v4.3" stroke="#000" stroke-width="1"/>
<path d="M257.1,209.4v-4.3M257.1,29.3v4.3" stroke="#000" stroke-width="1"/>
<path d="M279.8,209.4v-4.3M279.8,29.3v4.3" stroke="#000" stroke-width="1"/>
<path d="M302.4,209.4v-4.3M302.4,29.3v4.3" stroke="#000" stroke-width="1"/>
<path d="M53.5,203.4h4.3M325.0,203.4h-4.3" stroke="#000" stroke-width="1"/>
<path d="M53.5,197.4h4.3M325.0,197.4h-4.3" stroke="#000" stroke-width="1"/>
<path d="M53.5,191.4h4.3M325.0,191.4h-4.3" stroke="#000" stroke-width="1"/>
<path d="M53.5,185.4h4.3M325.0,185.4h-4.3" stroke="#000" stroke-width="1"/>
<path d="M53.5,173.4h4.3M325.0,173.4h-4.3" stroke="#000" stroke-width="1"/>
<path d="M53.5,167.4h4.3M325.0,167.4h-4.3" stroke="#000" stroke-width="1"/>
<path d="M53.5,161.4h4.3M325.0,161.4h-4.3" stroke="#000" stroke-width="1"/>
<path d="M53.5,155.4h4.3M325.0,155.4h-4.3" stroke="#000" stroke-width="1"/>
<path d="M53.5,143.4h4.3M325.0,143.4h-4.3" stroke="#000" stroke-width="1"/>
<path d="M53.5,137.4h4.3M325.0,137.4h-4.3" stroke="#000" stroke-width="1"/>
<path d="M53.5,131.4h4.3M325.0,131.4h-4.3" stroke="#000" stroke-width="1"/>
<path d="M53.5,125.4h4.3M325.0,125.4h-4.3" stroke="#000" stroke-width="1"/>
<path d="M53.5,113.3h4.3M325.0,113.3h-4.3" stroke="#000" stroke-width="1"/>
<path d="M53.5,107.3h4.3M325.0,107.3h-4.3" stroke="#000" stroke-width="1"/>
<path d="M53.5,101.3h4.3M325.0,101.3h-4.3" stroke="#000" stroke-width="1"/>
<path d="M53.5,95.3h4.3M325.0,95.3h-4.3" stroke="#000" stroke-width="1"/>
<path d="M53.5,83.3h4.3M325.0,83.3h-4.3" stroke="#000" stroke-width="1"/>
<path d="M53.5,77.3h4.3M325.0,77.3h-4.3" stroke="#000" stroke-width="1"/>
<path d="M53.5,71.3h4.3M325.0,71.3h-4.3" stroke="#000" stroke-width="1"/>
<path d="M53.5,65.3h4.3M325.0,65.3h-4.3" stroke="#000" stroke-width="1"/>
<path d="M53.5,53.3h4.3M325.0,53.3h-4.3" stroke="#000" stroke-width="1"/>
<path d="M53.5,47.3h4.3M325.0,47.3h-4.3" stroke="#000" stroke-width="1"/>
<path d="M53.5,41.3h4.3M325.0,41.3h-4.3" stroke="#000" stroke-width="1"/>
<path d="M53.5,35.3h4.3M325.0,35.3h-4.3" stroke="#000" stroke-width="1"/>
<path d="M53.5,209.4v-8.6M53.5,29.3v8.6" stroke="#000" stroke-width="2"/>
<path d="M144.0,209.4v-8.6M144.0,29.3v8.6" stroke="#000" stroke-width="2"/>
<path d="M234.5,209.4v-8.6M234.5,29.3v8.6" stroke="#000" stroke-width="2"/>
<path d="M325.0,209.4v-8.6M325.0,29.3v8.6" stroke="#000" stroke-width="2"/>
<path d="M53.5,209.4h8.6M325.0,209.4h-8.6" stroke="#000" stroke-width="2"/>
<path d="M53.5,179.4h8.6M325.0,179.4h-8.6" stroke="#000" stroke-width="2"/>
<path d="M53.5,149.4h8.6M325.0,149.4h-8.6" stroke="#000" stroke-width="2"/>
<path d="M53.5,119.4h8.6M325.0,119.4h-8.6" stroke="#000" stroke-width="2"/>
<path d="M53.5,89.3h8.6M325.0,89.3h-8.6" stroke="#000" stroke-width="2"/>
<path d="M53.5,59.3h8.6M325.0,59.3h-8.6" stroke="#000" stroke-width="2"/>
<path d="M53.5,29.3h8.6M325.0,29.3h-8.6" stroke="#000" stroke-width="2"/>
<rect x="53.5" y="29.3" width="271.5" height="180.1" fill="none" stroke="#000" stroke-width="0.9"/>
<rect x="240.6" y="35.6" width="78.7" height="74.2" rx="2.5" fill="#fff" fill-opacity="0.8" stroke="#ccc" stroke-width="1"/>
<path d="M244.6,45.2H271.4" stroke="#ee82ee" stroke-width="2.1"/>
<text x="280.0" y="49.4" font-family="'Liberation Sans', sans-serif" font-size="11.6" textLength="31.3" lengthAdjust="spacingAndGlyphs" fill="#1a1a1a">M2-L1</text>
<path d="M244.6,63.2H271.4" stroke="#8b008b" stroke-width="2.1"/>
<text x="280.0" y="67.4" font-family="'Liberation Sans', sans-serif" font-size="11.6" textLength="31.3" lengthAdjust="spacingAndGlyphs" fill="#1a1a1a">M2-L2</text>
<path d="M244.6,81.2H271.4" stroke="#4682b4" stroke-width="2.1"/>
<text x="280.0" y="85.4" font-family="'Liberation Sans', sans-serif" font-size="11.6" textLength="31.3" lengthAdjust="spacingAndGlyphs" fill="#1a1a1a">M2-L3</text>
<circle cx="258.0" cy="99.8" r="1.7" fill="#000"/>
<text x="280.1" y="103.4" font-family="'Liberation Sans', sans-serif" font-size="11.6" textLength="34.1" lengthAdjust="spacingAndGlyphs" fill="#1a1a1a">W2018</text>
<path d="M445.0,209.4v-4.3M445.0,29.3v4.3" stroke="#000" stroke-width="1"/>
<path d="M491.5,209.4v-4.3M491.5,29.3v4.3" stroke="#000" stroke-width="1"/>
<path d="M561.6,209.4v-4.3M561.6,29.3v4.3" stroke="#000" stroke-width="1"/>
<path d="M589.4,209.4v-4.3M589.4,29.3v4.3" stroke="#000" stroke-width="1"/>
<path d="M385.1,200.4h4.3M673.8,200.4h-4.3" stroke="#000" stroke-width="1"/>
<path d="M385.1,191.4h4.3M673.8,191.4h-4.3" stroke="#000" stroke-width="1"/>
<path d="M385.1,182.4h4.3M673.8,182.4h-4.3" stroke="#000" stroke-width="1"/>
<path d="M385.1,173.4h4.3M673.8,173.4h-4.3" stroke="#000" stroke-width="1"/>
<path d="M385.1,155.4h4.3M673.8,155.4h-4.3" stroke="#000" stroke-width="1"/>
<path d="M385.1,146.4h4.3M673.8,146.4h-4.3" stroke="#000" stroke-width="1"/>
<path d="M385.1,137.4h4.3M673.8,137.4h-4.3" stroke="#000" stroke-width="1"/>
<path d="M385.1,128.4h4.3M673.8,128.4h-4.3" stroke="#000" stroke-width="1"/>
<path d="M385.1,110.3h4.3M673.8,110.3h-4.3" stroke="#000" stroke-width="1"/>
<path d="M385.1,101.3h4.3M673.8,101.3h-4.3" stroke="#000" stroke-width="1"/>
<path d="M385.1,92.3h4.3M673.8,92.3h-4.3" stroke="#000" stroke-width="1"/>
<path d="M385.1,83.3h4.3M673.8,83.3h-4.3" stroke="#000" stroke-width="1"/>
<path d="M385.1,65.3h4.3M673.8,65.3h-4.3" stroke="#000" stroke-width="1"/>
<path d="M385.1,56.3h4.3M673.8,56.3h-4.3" stroke="#000" stroke-width="1"/>
<path d="M385.1,47.3h4.3M673.8,47.3h-4.3" stroke="#000" stroke-width="1"/>
<path d="M385.1,38.3h4.3M673.8,38.3h-4.3" stroke="#000" stroke-width="1"/>
<path d="M385.1,209.4v-8.6M385.1,29.3v8.6" stroke="#000" stroke-width="2"/>
<path d="M529.5,209.4v-8.6M529.5,29.3v8.6" stroke="#000" stroke-width="2"/>
<path d="M613.9,209.4v-8.6M613.9,29.3v8.6" stroke="#000" stroke-width="2"/>
<path d="M673.8,209.4v-8.6M673.8,29.3v8.6" stroke="#000" stroke-width="2"/>
<path d="M385.1,209.4h8.6M673.8,209.4h-8.6" stroke="#000" stroke-width="2"/>
<path d="M385.1,164.4h8.6M673.8,164.4h-8.6" stroke="#000" stroke-width="2"/>
<path d="M385.1,119.3h8.6M673.8,119.3h-8.6" stroke="#000" stroke-width="2"/>
<path d="M385.1,74.3h8.6M673.8,74.3h-8.6" stroke="#000" stroke-width="2"/>
<path d="M385.1,29.3h8.6M673.8,29.3h-8.6" stroke="#000" stroke-width="2"/>
<rect x="385.1" y="29.3" width="288.69999999999993" height="180.1" fill="none" stroke="#000" stroke-width="0.9"/>
<rect x="390.9" y="35.4" width="78.5" height="74.3" rx="2.5" fill="#fff" fill-opacity="0.8" stroke="#ccc" stroke-width="1"/>
<path d="M394.9,45.0H421.7" stroke="#ee82ee" stroke-width="2.1"/>
<text x="430.3" y="49.2" font-family="'Liberation Sans', sans-serif" font-size="11.6" textLength="31.3" lengthAdjust="spacingAndGlyphs" fill="#1a1a1a">M2-L1</text>
<path d="M394.9,63.0H421.7" stroke="#8b008b" stroke-width="2.1"/>
<text x="430.3" y="67.2" font-family="'Liberation Sans', sans-serif" font-size="11.6" textLength="31.3" lengthAdjust="spacingAndGlyphs" fill="#1a1a1a">M2-L2</text>
<path d="M394.9,81.0H421.7" stroke="#4682b4" stroke-width="2.1"/>
<text x="430.3" y="85.2" font-family="'Liberation Sans', sans-serif" font-size="11.6" textLength="31.3" lengthAdjust="spacingAndGlyphs" fill="#1a1a1a">M2-L3</text>
<circle cx="408.3" cy="99.6" r="1.7" fill="#000"/>
<text x="430.4" y="103.2" font-family="'Liberation Sans', sans-serif" font-size="11.6" textLength="34.1" lengthAdjust="spacingAndGlyphs" fill="#1a1a1a">W2018</text>
<text x="48.3" y="33.1" text-anchor="end" font-family="'Liberation Serif', serif" font-size="11.5" fill="#2b2b2b">0.20</text>
<text x="48.3" y="63.1" text-anchor="end" font-family="'Liberation Serif', serif" font-size="11.5" fill="#2b2b2b">0.15</text>
<text x="48.3" y="93.1" text-anchor="end" font-family="'Liberation Serif', serif" font-size="11.5" fill="#2b2b2b">0.10</text>
<text x="48.3" y="123.2" text-anchor="end" font-family="'Liberation Serif', serif" font-size="11.5" fill="#2b2b2b">0.05</text>
<text x="48.3" y="153.2" text-anchor="end" font-family="'Liberation Serif', serif" font-size="11.5" fill="#2b2b2b">0.00</text>
<text y="183.2" font-family="'Liberation Serif', serif" font-size="11.5" fill="#2b2b2b"><tspan x="19.3" textLength="8.1" lengthAdjust="spacingAndGlyphs">−</tspan><tspan x="48.3" text-anchor="end">0.05</tspan></text>
<text y="213.2" font-family="'Liberation Serif', serif" font-size="11.5" fill="#2b2b2b"><tspan x="19.3" textLength="8.1" lengthAdjust="spacingAndGlyphs">−</tspan><tspan x="48.3" text-anchor="end">0.10</tspan></text>
<text x="53.5" y="224" text-anchor="middle" font-family="'Liberation Serif', serif" font-size="11.5" fill="#2b2b2b">300</text>
<text x="385.1" y="224" text-anchor="middle" font-family="'Liberation Serif', serif" font-size="11.5" fill="#2b2b2b">300</text>
<text x="144.0" y="224" text-anchor="middle" font-family="'Liberation Serif', serif" font-size="11.5" fill="#2b2b2b">600</text>
<text x="529.5" y="224" text-anchor="middle" font-family="'Liberation Serif', serif" font-size="11.5" fill="#2b2b2b">600</text>
<text x="234.5" y="224" text-anchor="middle" font-family="'Liberation Serif', serif" font-size="11.5" fill="#2b2b2b">900</text>
<text x="613.9" y="224" text-anchor="middle" font-family="'Liberation Serif', serif" font-size="11.5" fill="#2b2b2b">900</text>
<text x="325.0" y="224" text-anchor="middle" font-family="'Liberation Serif', serif" font-size="11.5" fill="#2b2b2b">1200</text>
<text x="673.8" y="224" text-anchor="middle" font-family="'Liberation Serif', serif" font-size="11.5" fill="#2b2b2b">1200</text>
<text x="379.5" y="213.2" text-anchor="end" font-family="'Liberation Serif', serif" font-size="11.5" fill="#2b2b2b">7.0</text>
<text x="379.5" y="168.2" text-anchor="end" font-family="'Liberation Serif', serif" font-size="11.5" fill="#2b2b2b">7.5</text>
<text x="379.5" y="123.1" text-anchor="end" font-family="'Liberation Serif', serif" font-size="11.5" fill="#2b2b2b">8.0</text>
<text x="379.5" y="78.1" text-anchor="end" font-family="'Liberation Serif', serif" font-size="11.5" fill="#2b2b2b">8.5</text>
<text x="379.5" y="33.1" text-anchor="end" font-family="'Liberation Serif', serif" font-size="11.5" fill="#2b2b2b">9.0</text>
<text x="190.1" y="237.3" text-anchor="middle" font-family="'Liberation Serif', serif" font-size="13.1" font-style="italic" fill="#2b2b2b">Re<tspan font-size="9.5" dy="2">τ</tspan></text>
<text x="530.2" y="237.3" text-anchor="middle" font-family="'Liberation Serif', serif" font-size="13.1" font-style="italic" fill="#2b2b2b">Re<tspan font-size="9.5" dy="2">τ</tspan></text>
<g transform="translate(11.3,137) rotate(-90)"><text font-family="'Liberation Serif', serif" fill="#2b2b2b" font-size="12.2"><tspan x="0.6" y="0">1</tspan><tspan x="8.6" y="0" textLength="7.4" lengthAdjust="spacingAndGlyphs">−</tspan><tspan x="20.3" y="0" font-size="13" font-style="italic">τ</tspan><tspan x="26.6" y="-4.7" font-size="8.2">pk</tspan><tspan x="26.6" y="3.8" font-size="8.2" font-style="italic">xy</tspan></text></g>
<g transform="translate(358.8,128) rotate(-90)"><text font-family="'Liberation Serif', serif" fill="#2b2b2b" font-size="13"><tspan x="0.8" y="0" font-style="italic">τ</tspan><tspan x="6.6" y="-4.7" font-size="8.2">pk</tspan><tspan x="6.6" y="3.8" font-size="8.2" font-style="italic">zz</tspan></text></g>
<text x="166.2" y="16.3" text-anchor="middle" font-family="'Liberation Serif', serif" font-size="19.5" font-weight="bold" fill="#111">(a)</text>
<text x="514.9" y="16.2" text-anchor="middle" font-family="'Liberation Serif', serif" font-size="19.5" font-weight="bold" fill="#111">(b)</text>
</svg>
</body></html>
